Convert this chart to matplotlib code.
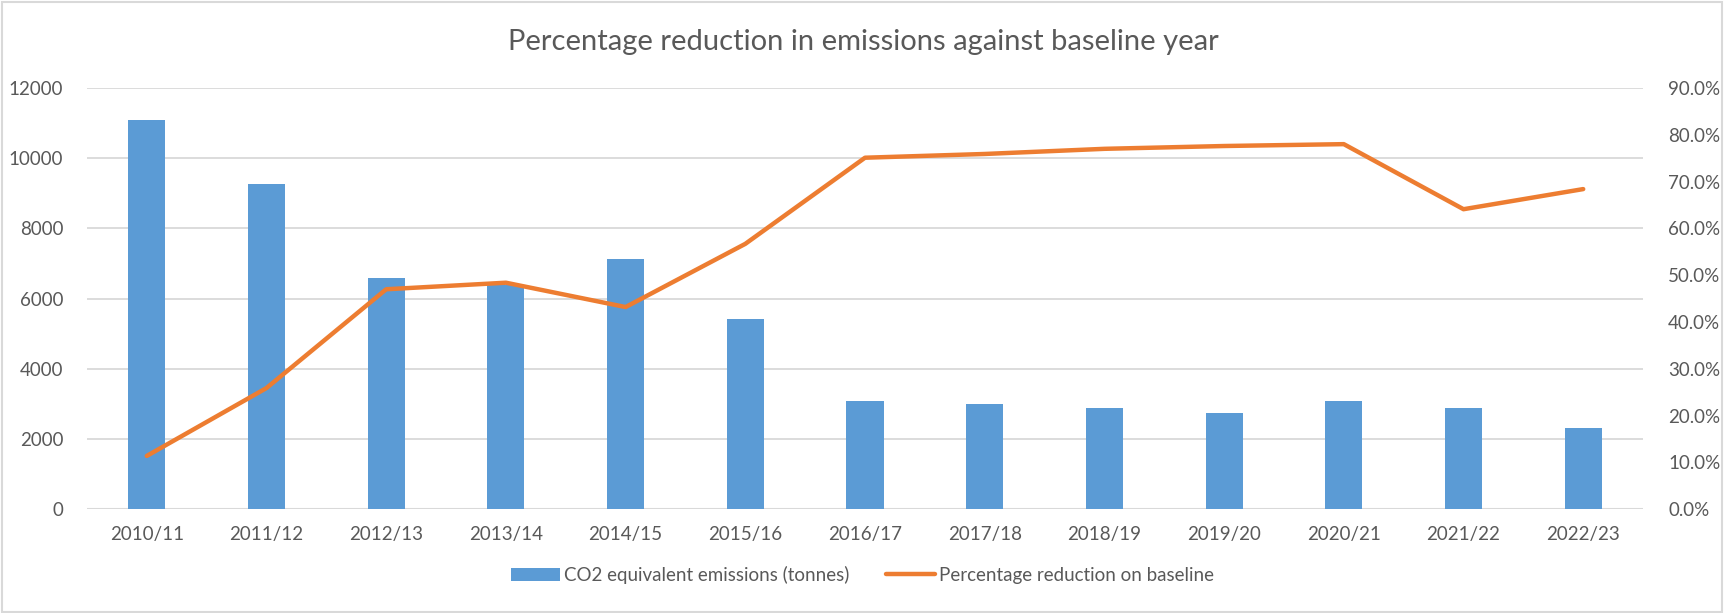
import matplotlib
matplotlib.use("Agg")
import matplotlib.pyplot as plt
from matplotlib.patches import Rectangle
from matplotlib.ticker import PercentFormatter

# Data
years = ["2010/11", "2011/12", "2012/13", "2013/14", "2014/15", "2015/16", "2016/17",
         "2017/18", "2018/19", "2019/20", "2020/21", "2021/22", "2022/23"]
emissions = [11090, 9260, 6580, 6400, 7120, 5420, 3090, 3000, 2880, 2750, 3090, 2880, 2310]
pct_reduction = [0.114, 0.259, 0.470, 0.484, 0.432, 0.567, 0.751, 0.759, 0.770, 0.776,
                 0.780, 0.641, 0.684]

BLUE = "#5B9BD5"
ORANGE = "#ED7D31"
GRID = "#D9D9D9"
TEXT = "#595959"

plt.rcParams['font.family'] = ['Lato', 'DejaVu Sans']

fig = plt.figure(figsize=(17.25, 6.13), dpi=100)
ax = fig.add_axes([0.0504, 0.1692, 0.9021, 0.6873])
ax2 = ax.twinx()

x = list(range(len(years)))
bars = ax.bar(x, emissions, width=0.31, color=BLUE, zorder=2,
              label="CO2 equivalent emissions (tonnes)")
line, = ax2.plot(x, pct_reduction, color=ORANGE, linewidth=3.2, solid_capstyle='round',
                 solid_joinstyle='round', zorder=3, label="Percentage reduction on baseline")

ax.set_xlim(-0.5, len(years) - 0.5)
ax.set_ylim(0, 12000)
ax.set_yticks(range(0, 12001, 2000))
ax2.set_ylim(0, 0.9)
ax2.set_yticks([i / 10 for i in range(10)])
ax2.yaxis.set_major_formatter(PercentFormatter(1.0, decimals=1))

ax.set_xticks(x)
ax.set_xticklabels(years)

# Excel-like styling
ax.grid(axis='y', color=GRID, linewidth=1.3, zorder=0)
ax.set_axisbelow(True)
for a in (ax, ax2):
    for side in ("top", "left", "right", "bottom"):
        a.spines[side].set_visible(False)
ax.axhline(0, color=GRID, linewidth=1.5, zorder=1)

ax.tick_params(axis='x', length=0, pad=12, labelsize=13.5, labelcolor=TEXT)
ax.tick_params(axis='y', length=0, pad=17, labelsize=13.5, labelcolor=TEXT)
ax2.tick_params(axis='y', length=0, pad=18, labelsize=13.5, labelcolor=TEXT)

fig.text(0.5003, 0.931, "Percentage reduction in emissions against baseline year",
         ha='center', va='center', fontsize=21, color=TEXT)

fig.legend(handles=[bars, line], loc='center', bbox_to_anchor=(0.5, 0.062), ncol=2,
           frameon=False, fontsize=13.5, labelcolor=TEXT, handlelength=2.6,
           handleheight=0.7, handletextpad=0.2, columnspacing=2.0)

# light border round the chart area
fig.patches.append(Rectangle((0.001, 0.002), 0.997, 0.995, transform=fig.transFigure,
                             fill=False, edgecolor=GRID, linewidth=1.5))

fig.savefig("out.png", dpi=100)
